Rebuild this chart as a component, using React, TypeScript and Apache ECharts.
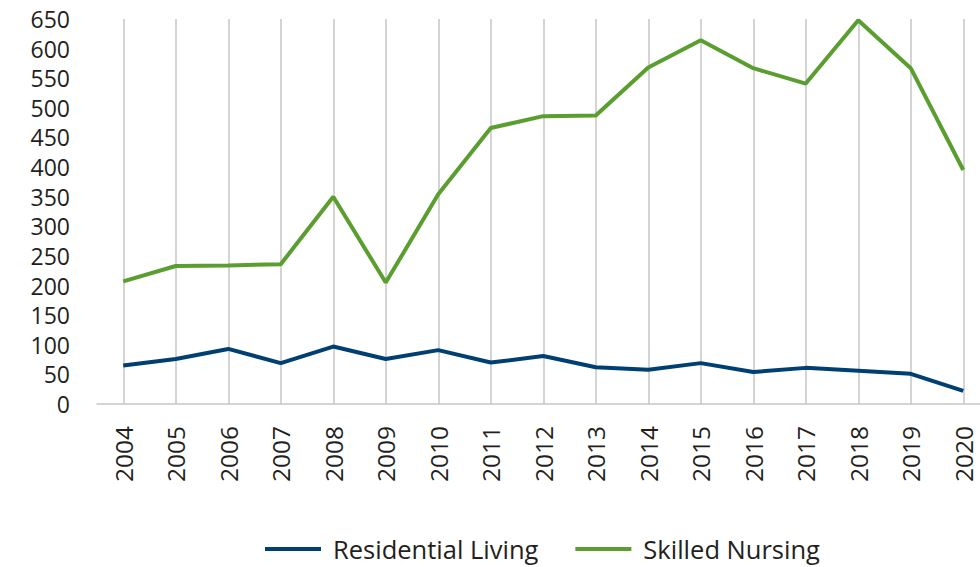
import React, { useEffect, useRef } from "react";
import * as echarts from "echarts";

const years = ["2004","2005","2006","2007","2008","2009","2010","2011","2012","2013","2014","2015","2016","2017","2018","2019","2020"];
const residentialLiving = [65, 76, 93, 69, 97, 76, 91, 70, 81, 62, 58, 69, 54, 61, 56, 51, 22];
const skilledNursing = [207, 233, 234, 236, 350, 205, 354, 466, 486, 487, 568, 614, 567, 541, 648, 567, 395];
const yTicks = { min: 0, max: 650, interval: 50 };

const FONT = "'Open Sans', sans-serif";
const TEXT = "#231f20";

export default function App() {
  const ref = useRef<HTMLDivElement>(null);
  useEffect(() => {
    if (!ref.current) return;
    const chart = echarts.init(ref.current, null, { renderer: "svg" });
    chart.setOption({
      animation: false,
      textStyle: { fontFamily: FONT, color: TEXT },
      grid: { left: 97, top: 19, width: 892.5, height: 385, containLabel: false, outerBoundsMode: "none" },
      legend: {
        left: 265,
        top: 536,
        padding: 0,
        icon: "rect",
        itemWidth: 56,
        itemHeight: 4,
        itemGap: 37,
        textStyle: { fontFamily: FONT, fontSize: 25.5, lineHeight: 26, color: TEXT, padding: [0, 0, 0, 7] },
        data: ["Residential Living", "Skilled Nursing"],
      },
      xAxis: {
        type: "category",
        data: years,
        boundaryGap: true,
        axisLine: { show: true, lineStyle: { color: "#c6c6c6", width: 1.5 } },
        axisTick: { show: false },
        splitLine: { show: true, alignWithLabel: true, lineStyle: { color: "#c6c6c6", width: 1.5 } },
        axisLabel: { rotate: 90, margin: 22, fontSize: 24.5, color: TEXT, fontFamily: FONT, interval: 0 },
      },
      yAxis: {
        type: "value",
        min: yTicks.min,
        max: yTicks.max,
        interval: yTicks.interval,
        axisLine: { show: false },
        axisTick: { show: false },
        splitLine: { show: false },
        axisLabel: { margin: 27, fontSize: 23, color: TEXT, fontFamily: FONT },
      },
      series: [
        {
          name: "Residential Living",
          type: "line",
          data: residentialLiving,
          symbol: "none",
          lineStyle: { color: "#003f72", width: 4 },
          itemStyle: { color: "#003f72" },
        },
        {
          name: "Skilled Nursing",
          type: "line",
          data: skilledNursing,
          symbol: "none",
          lineStyle: { color: "#5a9e30", width: 4 },
          itemStyle: { color: "#5a9e30" },
        },
      ],
    });
    return () => chart.dispose();
  }, []);
  return <div ref={ref} style={{ width: 980, height: 567, position: "absolute", left: 0, top: 0 }} />;
}
